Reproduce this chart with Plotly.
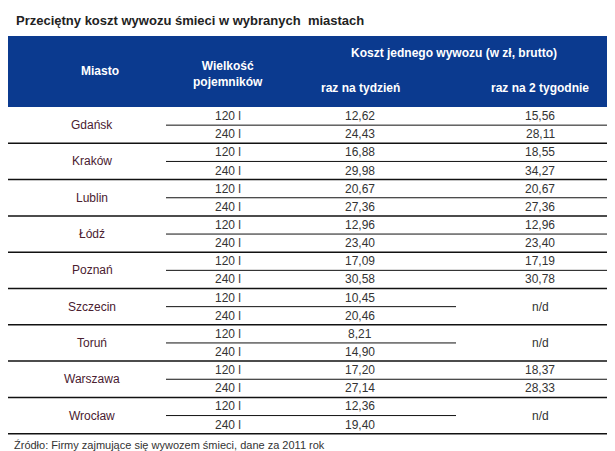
import plotly.graph_objects as go

cities = ["Gdańsk", "Kraków", "Lublin", "Łódź", "Poznań", "Szczecin", "Toruń", "Warszawa", "Wrocław"]
sizes = ["120 l", "240 l"]
weekly = [["12,62", "24,43"], ["16,88", "29,98"], ["20,67", "27,36"], ["12,96", "23,40"],
          ["17,09", "30,58"], ["10,45", "20,46"], ["8,21", "14,90"], ["17,20", "27,14"], ["12,36", "19,40"]]
biweekly = [["15,56", "28,11"], ["18,55", "34,27"], ["20,67", "27,36"], ["12,96", "23,40"],
            ["17,19", "30,78"], None, None, ["18,37", "28,33"], None]

W, H = 615, 451
top, hdr_bot, row_h = 28, 99, 36.3
F = "Liberation Sans, Arial, sans-serif"
fig = go.Figure()
shapes, ann = [], []

def txt(x, y, s, size=12, color="#333", bold=False, anchor="center"):
    ann.append(dict(x=x, y=y, text=f"<b>{s}</b>" if bold else s, showarrow=False, xanchor=anchor,
                    yanchor="middle", font=dict(family=F, size=size, color=color)))

txt(6, 12, "<b>Przeciętny koszt wywozu śmieci w wybranych  miastach</b>", 13, "#222", anchor="left")
shapes.append(dict(type="rect", x0=0, x1=W, y0=top, y1=hdr_bot, fillcolor="#0b3a8f", line_width=0, layer="below"))
txt(92, 63, "Miasto", 12, "white", True)
txt(220, 66, "Wielkość<br>pojemników", 12, "white", True)
txt(446, 45, "Koszt jednego wywozu (w zł, brutto)", 12, "white", True)
txt(352, 80, "raz na tydzień", 12, "white", True)
txt(532, 80, "raz na 2 tygodnie", 12, "white", True)

for i, c in enumerate(cities):
    y0 = hdr_bot + i * row_h
    ym = y0 + row_h / 2
    txt(84, ym, c, 12, "#4a2030")
    for j in range(2):
        yy = y0 + row_h / 4 + j * row_h / 2
        txt(220, yy, sizes[j])
        txt(352, yy, weekly[i][j])
        if biweekly[i]:
            txt(532, yy, biweekly[i][j])
    if not biweekly[i]:
        txt(532, ym, "n/d")
    x_end = W if biweekly[i] else 448
    shapes.append(dict(type="line", x0=158, x1=x_end, y0=ym, y1=ym, line=dict(color="#111", width=1)))
    shapes.append(dict(type="line", x0=0, x1=W, y0=y0 + row_h, y1=y0 + row_h, line=dict(color="#111", width=1.5)))

txt(4, 437, "Źródło: Firmy zajmujące się wywozem śmieci, dane za 2011 rok", 11, "#333", anchor="left")

fig.update_layout(width=W, height=H, margin=dict(l=0, r=0, t=0, b=0), plot_bgcolor="white", paper_bgcolor="white",
                  shapes=shapes, annotations=ann, showlegend=False,
                  xaxis=dict(range=[0, W], visible=False, fixedrange=True),
                  yaxis=dict(range=[H, 0], visible=False, fixedrange=True))
fig.write_html("out.html", config={"displayModeBar": False})
